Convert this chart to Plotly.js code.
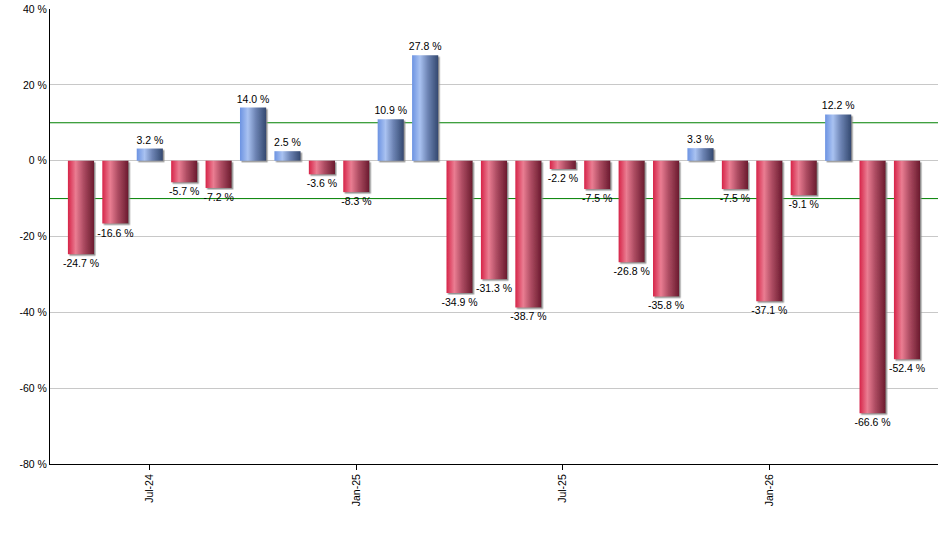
<!DOCTYPE html>
<html>
<head>
<meta charset="utf-8">
<script src="https://cdn.plot.ly/plotly-3.0.1.min.js"></script>
<style>html,body{margin:0;padding:0;background:#fff;}#chart{width:940px;height:550px;}</style>
</head>
<body>
<div id="chart"></div>
<script>
const months = ['May-24','Jun-24','Jul-24','Aug-24','Sep-24','Oct-24','Nov-24','Dec-24','Jan-25','Feb-25','Mar-25','Apr-25','May-25','Jun-25','Jul-25','Aug-25','Sep-25','Oct-25','Nov-25','Dec-25','Jan-26','Feb-26','Mar-26','Apr-26','May-26'];
const values = [-24.7,-16.6,3.2,-5.7,-7.2,14.0,2.5,-3.6,-8.3,10.9,27.8,-34.9,-31.3,-38.7,-2.2,-7.5,-26.8,-35.8,3.3,-7.5,-37.1,-9.1,12.2,-66.6,-52.4];
const tickLabels = ['Jul-24','Jan-25','Jul-25','Jan-26'];
const yTicks = [40,20,0,-20,-40,-60,-80];
const bandLevels = [10,-10];

const FONT = {family:'"Liberation Sans", Arial, sans-serif', size:10.5, color:'#000'};

const trace = {
  type:'bar', x:months, y:values,
  text: values.map(v=>v.toFixed(1)+' %'),
  texttemplate:'%{text}', textposition:'outside',
  marker:{color:values.map(v=>v>=0?'#7a9ae0':'#c8304c'), line:{width:0}},
  textfont:FONT, cliponaxis:false, constraintext:'none',
  hoverinfo:'skip'
};

const layout = {
  width:940, height:550,
  margin:{l:50, r:2, t:9, b:86},
  paper_bgcolor:'#fff', plot_bgcolor:'#fff',
  bargap:0.24,
  showlegend:false,
  font:FONT,
  xaxis:{type:'category', range:[-0.9,24.9], tickvals:tickLabels, ticktext:tickLabels,
    tickangle:-90, ticks:'outside', ticklen:5, tickcolor:'#000', showgrid:false,
    showline:true, linecolor:'#000', linewidth:1, zeroline:false, tickfont:FONT},
  yaxis:{range:[-80,40], tickvals:yTicks, ticktext:yTicks.map(v=>String(v)+' %'),
    showgrid:true, gridcolor:'#c8c8c8',
    gridwidth:1, zeroline:false, showline:true, linecolor:'#000', linewidth:1,
    ticks:'', tickfont:FONT},
  shapes: bandLevels.map(l=>({type:'line', xref:'paper', x0:0, x1:1, yref:'y', y0:l, y1:l,
    line:{color:'#008000', width:1}, layer:'below'}))
};

Plotly.newPlot('chart',[trace],layout,{staticPlot:true}).then(()=>{
  const svg = document.querySelector('#chart .main-svg');
  const NS = 'http://www.w3.org/2000/svg';
  let defs = svg.querySelector('defs');
  if(!defs){defs=document.createElementNS(NS,'defs');svg.insertBefore(defs,svg.firstChild);}
  function grad(id, stops){
    const g=document.createElementNS(NS,'linearGradient');
    g.setAttribute('id',id);g.setAttribute('x1','0');g.setAttribute('y1','0');g.setAttribute('x2','1');g.setAttribute('y2','0');
    stops.forEach(([o,c])=>{const s=document.createElementNS(NS,'stop');s.setAttribute('offset',o);s.setAttribute('stop-color',c);g.appendChild(s);});
    defs.appendChild(g);
  }
  grad('gRed',[['0','#d62448'],['0.3','#ea7d92'],['0.6','#ad4c62'],['1','#6a1a2e']]);
  grad('gBlue',[['0','#6c93e2'],['0.3','#a9c2f1'],['0.6','#6d84b4'],['1','#33486f']]);
  const f=document.createElementNS(NS,'filter');
  f.setAttribute('id','shadow');f.setAttribute('x','-20%');f.setAttribute('y','-20%');f.setAttribute('width','140%');f.setAttribute('height','140%');
  const ds=document.createElementNS(NS,'feDropShadow');
  ds.setAttribute('dx','1.5');ds.setAttribute('dy','1.5');ds.setAttribute('stdDeviation','0.4');
  ds.setAttribute('flood-color','#888');ds.setAttribute('flood-opacity','0.9');
  f.appendChild(ds);defs.appendChild(f);
  const paths = document.querySelectorAll('#chart .barlayer .trace .point path');
  paths.forEach((p,i)=>{
    p.style.fill = values[i]>=0 ? 'url(#gBlue)' : 'url(#gRed)';
    p.setAttribute('filter','url(#shadow)');
  });
});
</script>
</body>
</html>
